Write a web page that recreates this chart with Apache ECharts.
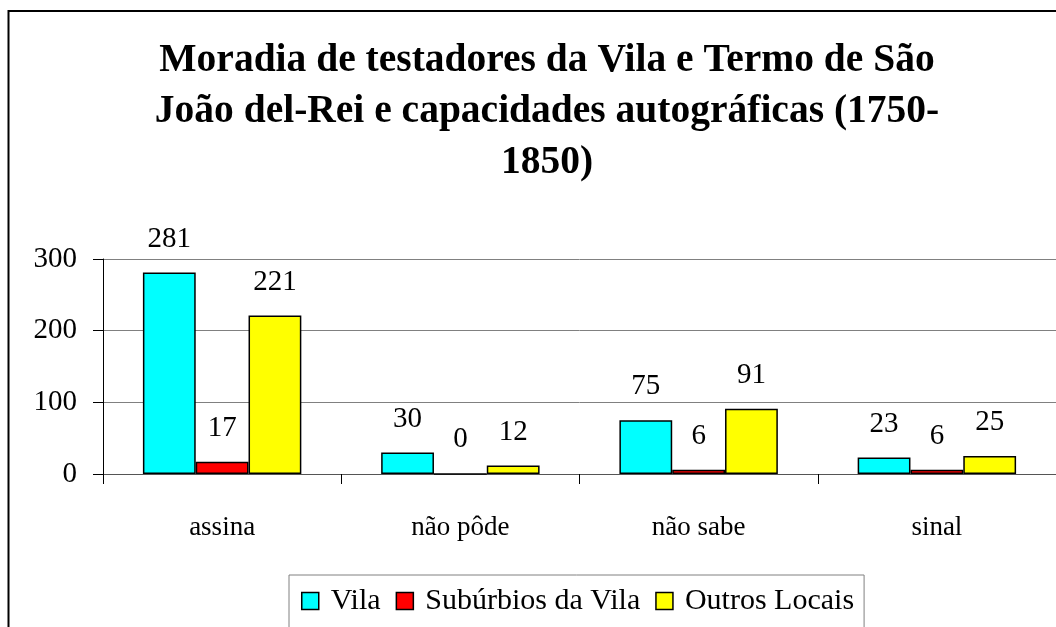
<!DOCTYPE html>
<html>
<head>
<meta charset="utf-8">
<script src="https://cdn.jsdelivr.net/npm/echarts@6/dist/echarts.min.js"></script>
<style>
  html, body { margin: 0; padding: 0; background: #fff; }
  #chart { width: 1056px; height: 627px; }
</style>
</head>
<body>
<div id="chart"></div>
<script>
// 数据
const categories = ['assina', 'não pôde', 'não sabe', 'sinal'];
const vila = [281, 30, 75, 23];
const suburbios = [17, 0, 6, 6];
const outros = [221, 12, 91, 25];
const seriesNames = ['Vila', 'Subúrbios da Vila', 'Outros Locais'];
const seriesColors = ['#00FFFF', '#FF0000', '#FFFF00'];
const yTicks = { min: 0, max: 300, interval: 100 };

const FONT = '"Liberation Serif", "Times New Roman", serif';

const chart = echarts.init(document.getElementById('chart'));

function barSeries(name, data, color) {
  return {
    name,
    type: 'bar',
    data,
    barGap: '0%',
    barCategoryGap: '33.5%',
    itemStyle: { color, borderColor: '#000', borderWidth: 1.5 },
    label: {
      show: true,
      position: 'top',
      distance: 19,
      color: '#000',
      fontFamily: FONT,
      fontSize: 29,
    },
  };
}

chart.setOption({
  animation: false,
  backgroundColor: '#fff',
  textStyle: { fontFamily: FONT },
  graphic: [
    // 外框（右、下边在画面外）
    {
      type: 'rect',
      shape: { x: 8.5, y: 11, width: 1070, height: 640 },
      style: { fill: 'none', stroke: '#000', lineWidth: 2 },
      silent: true,
    },
    // 标题（三行）
    {
      type: 'text',
      x: 547,
      y: 35,
      style: {
        text: 'Moradia de testadores da Vila e Termo de São\nJoão del-Rei e capacidades autográficas (1750-\n1850)',
        font: 'bold 39.5px ' + FONT,
        fill: '#000',
        textAlign: 'center',
        textVerticalAlign: 'top',
        lineHeight: 51,
      },
    },
  ],
  legend: {
    data: seriesNames,
    left: 289,
    top: 575,
    padding: [11, 10, 14, 12],
    itemGap: 15,
    itemWidth: 17,
    itemHeight: 17,
    borderColor: '#808080',
    borderWidth: 1,
    icon: 'rect',
    itemStyle: { borderColor: '#000', borderWidth: 1.5 },
    textStyle: { fontFamily: FONT, fontSize: 30, color: '#000', padding: [0, 0, 0, 7] },
  },
  grid: {
    left: 103,
    right: -3,
    top: 259,
    bottom: 153,
    containLabel: false,
  },
  xAxis: {
    type: 'category',
    data: categories,
    axisLine: { show: true, lineStyle: { color: '#555', width: 1 } },
    axisTick: { show: true, length: 10, lineStyle: { color: '#000' } },
    axisLabel: { fontFamily: FONT, fontSize: 27, color: '#000', margin: 40 },
  },
  yAxis: {
    type: 'value',
    min: yTicks.min,
    max: yTicks.max,
    interval: yTicks.interval,
    axisLine: { show: true, lineStyle: { color: '#000', width: 1 } },
    axisTick: { show: true, length: 10, lineStyle: { color: '#000' } },
    axisLabel: { fontFamily: FONT, fontSize: 29, color: '#000', margin: 26 },
    splitLine: { show: true, lineStyle: { color: '#808080', width: 1 } },
  },
  series: [
    barSeries(seriesNames[0], vila, seriesColors[0]),
    barSeries(seriesNames[1], suburbios, seriesColors[1]),
    barSeries(seriesNames[2], outros, seriesColors[2]),
  ],
});
</script>
</body>
</html>
